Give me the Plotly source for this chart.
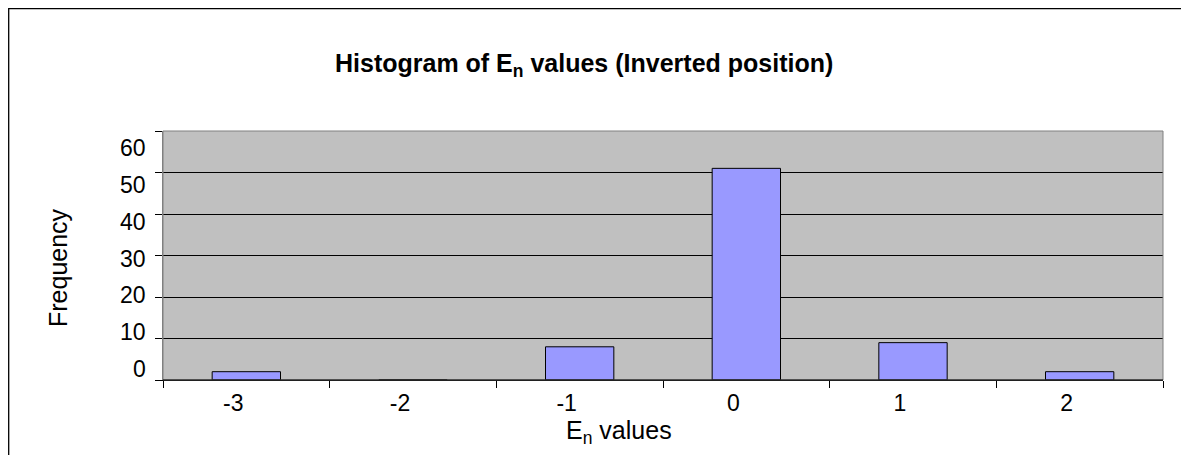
import plotly.graph_objects as go

categories = ["-3", "-2", "-1", "0", "1", "2"]
frequency = [2, 0, 8, 51, 9, 2]
y_ticks = [0, 10, 20, 30, 40, 50, 60]

FONT = "Arial, Liberation Sans, sans-serif"

# page body has an 8px margin; work in screen coordinates
OFF = 8
W, H = 1181, 447
L, T = 163 - OFF, 131 - OFF
R = W - (1163 - OFF)
B = H - (380 - OFF)
pw, ph = W - L - R, H - T - B

def px(x):
    return (x - OFF - L) / pw

def py(y):
    return (H - B - (y - OFF)) / ph

fig = go.Figure(go.Bar(
    x=categories, y=frequency,
    marker=dict(color="#9999FF", line=dict(color="#000000", width=1)),
))

# y tick labels drawn as annotations; in the reference their spacing is a bit
# tighter than the gridlines (top label sits below its line, bottom one above)
LAB_TOP, LAB_BOT = 148, 369     # screen centre of the top / bottom label
GRID_TOP, GRID_BOT = 131, 380   # screen y of the top / bottom gridline
ymax = max(y_ticks)
y_label_annotations = []
for v in y_ticks:
    f = (ymax - v) / ymax
    lab = LAB_TOP + f * (LAB_BOT - LAB_TOP)
    grid = GRID_TOP + f * (GRID_BOT - GRID_TOP)
    y_label_annotations.append(dict(
        text=str(v), xref="paper", yref="y", x=0, y=v, xanchor="right",
        yanchor="middle", xshift=-15, yshift=grid - lab, showarrow=False,
        font=dict(size=23),
    ))

fig.update_layout(
    width=W, height=H,
    margin=dict(l=L, r=R, t=T, b=B, autoexpand=False),
    paper_bgcolor="white", plot_bgcolor="#C0C0C0",
    bargap=0.59, showlegend=False,
    font=dict(family=FONT, color="black", size=22),
    xaxis=dict(
        type="category", tickson="boundaries", ticks="outside", ticklen=7,
        tickcolor="black", showline=True, linecolor="black", linewidth=1,
        showgrid=False, tickfont=dict(size=23), fixedrange=True,
        ticklabelshift=-13, ticklabelstandoff=2,
    ),
    yaxis=dict(
        range=[0, 60], tickvals=y_ticks, ticks="outside", ticklen=7,
        tickcolor="black", showgrid=True, gridcolor="black", gridwidth=1,
        showline=True, linecolor="#808080", linewidth=1, zeroline=False,
        showticklabels=False,
    ),
    shapes=[
        dict(type="rect", xref="paper", yref="paper", x0=0, x1=1, y0=0, y1=1,
             line=dict(color="#808080", width=1), layer="above"),
        dict(type="line", xref="paper", yref="paper", x0=0, x1=1, y0=0, y1=0,
             line=dict(color="black", width=1), layer="above"),
        dict(type="rect", xref="paper", yref="paper",
             x0=px(8.7), x1=px(1300), y0=py(8.7), y1=py(600),
             line=dict(color="black", width=1.3)),
    ],
    annotations=y_label_annotations + [
        dict(text="<b>Histogram of E<sub>n</sub> values (Inverted position)</b>",
             xref="paper", yref="paper", x=px(584), y=py(65),
             showarrow=False, font=dict(size=25), xanchor="center", yanchor="middle"),
        dict(text="E<sub>n</sub> values",
             xref="paper", yref="paper", x=px(619), y=py(432),
             showarrow=False, font=dict(size=25), xanchor="center", yanchor="middle"),
        dict(text="Frequency", textangle=-90,
             xref="paper", yref="paper", x=px(58), y=py(268),
             showarrow=False, font=dict(size=25), xanchor="center", yanchor="middle"),
    ],
)

fig.write_html("out.html")
